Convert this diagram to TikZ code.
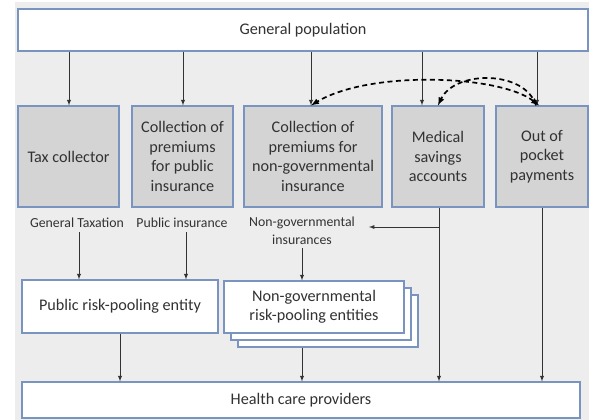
\documentclass[tikz,border=0pt]{standalone}
\usepackage{fontspec}
\setmainfont{Carlito}
\usetikzlibrary{arrows,shadows}
\definecolor{bordblue}{RGB}{122,148,192}
\definecolor{boxgray}{RGB}{212,212,212}
\definecolor{bggray}{RGB}{237,237,237}
\definecolor{txtgray}{RGB}{50,50,50}
\begin{document}
\begin{tikzpicture}[x=1pt,y=-1pt,
 box/.style={draw=bordblue,line width=1.2pt,align=center,text=txtgray,inner sep=0pt,
  font=\fontsize{16.2}{19.5}\selectfont,
  drop shadow={shadow xshift=1pt,shadow yshift=-1.2pt,opacity=0.35}},
 graybox/.style={box,fill=boxgray},
 whitebox/.style={box,fill=white},
 lbl/.style={text=txtgray,align=center,inner sep=0pt,font=\fontsize{13.8}{18}\selectfont},
 flow/.style={->,>=latex,draw=black!80,line width=0.9pt},
 swapflow/.style={>=latex,line width=1.7pt,dash pattern=on 5pt off 3.5pt}]
\useasboundingbox(0,0)rectangle(589,420);
\fill[bggray](15,2)rectangle(589,420);
\node[whitebox,minimum width=570pt,minimum height=42pt](pop)at(303,30){General population};
\node[graybox,minimum width=101pt,minimum height=101pt](tax)at(68.5,156.5){Tax collector};
\node[graybox,minimum width=101pt,minimum height=101pt](pubc)at(182.5,156.5){Collection of\\premiums\\for public\\insurance};
\node[graybox,minimum width=138pt,minimum height=101pt](ngc)at(313,156.5){Collection of\\premiums for\\non-governmental\\insurance};
\node[graybox,minimum width=92pt,minimum height=101pt](msa)at(438,156.5){Medical\\savings\\accounts};
\node[graybox,minimum width=92pt,minimum height=101pt](oop)at(542,156.5){Out of\\pocket\\payments};
\node[lbl](gtx)at(77,223){General Taxation};
\node[lbl](pins)at(182,223){Public insurance};
\node[lbl](ngi)at(302,231){Non-governmental\\insurances};
\node[whitebox,minimum width=196pt,minimum height=53pt](prp)at(120,306.5){Public risk-pooling entity};
\node[whitebox,minimum width=180pt,minimum height=52pt](nrp3)at(328,321){};
\node[whitebox,minimum width=180pt,minimum height=52pt](nrp2)at(321,314){};
\node[whitebox,minimum width=180pt,minimum height=52pt](nrp)at(314,307){Non-governmental\\risk-pooling entities};
\node[whitebox,minimum width=558pt,minimum height=36pt](hcp)at(301,400){Health care providers};
\foreach \n/\x in {tax/69,pubc/183,ngc/311,msa/422,oop/537}
 \draw[flow](\x,0 |- pop.south)--(\x,0 |- \n.north);
\draw[flow,shorten <=4pt](79,0 |- gtx.south)--(79,0 |- prp.north);
\draw[flow,shorten <=4pt](186,0 |- pins.south)--(186,0 |- prp.north);
\draw[flow,shorten <=3pt](302,0 |- ngi.south)--(302,0 |- nrp.north);
\draw[flow](439,0 |- msa.south)--(439,0 |- hcp.north);
\draw[flow](439,227)--([xshift=14pt]ngi.east |- 0,227);
\draw[flow](oop.south)--(oop.south |- hcp.north);
\draw[flow](prp.south)--(prp.south |- hcp.north);
\draw[flow](302,0 |- nrp3.south)--(302,0 |- hcp.north);
\draw[swapflow,<->](539,0 |- oop.north) .. controls (500,75) and (370,70) .. (311,0 |- ngc.north);
\draw[swapflow,->](536,0 |- oop.north) .. controls (525,70) and (455,70) .. (438,0 |- msa.north);
\end{tikzpicture}
\end{document}
